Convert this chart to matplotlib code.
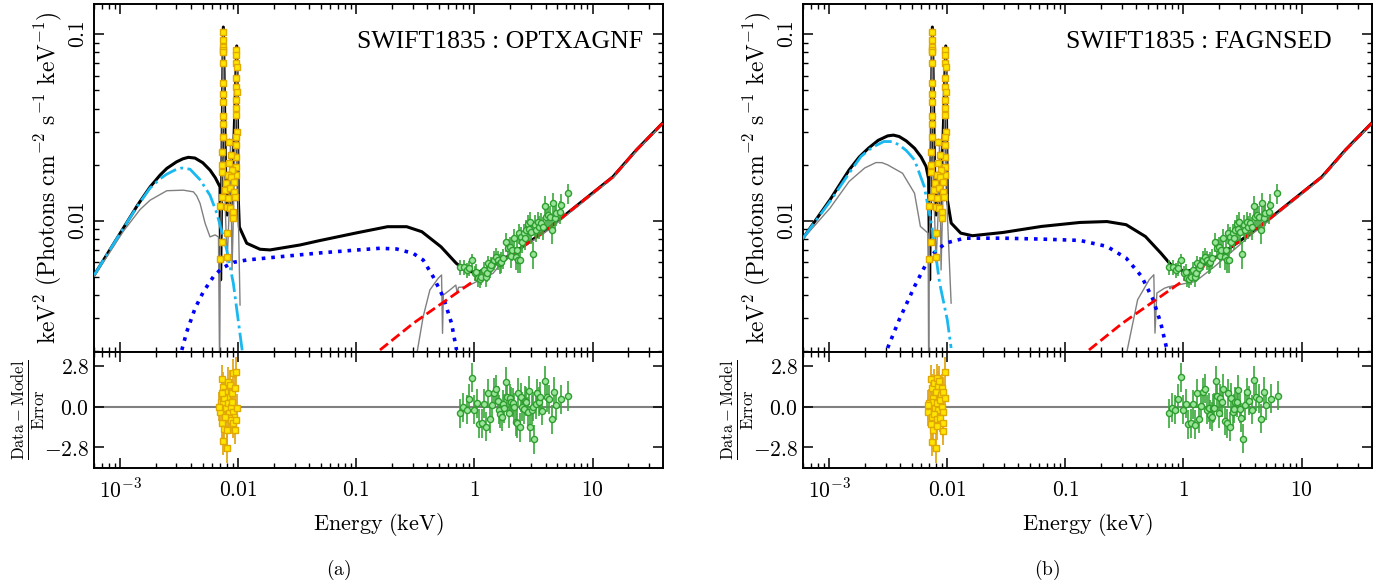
# SWIFT1835 - broad band SED fits (OPTXAGNF / FAGNSED), data + residuals
import matplotlib.pyplot as plt
from matplotlib.ticker import FixedLocator, LogLocator, NullFormatter, NullLocator

plt.rcParams['mathtext.fontset'] = 'cm'
plt.rcParams['font.family'] = 'serif'

# ---- 1) Data : UVOT (yellow squares) and XRT (green circles), same in both panels
uvot_E = [0.00745, 0.00746, 0.00744, 0.00745, 0.00746, 0.00744, 0.00745, 0.00743, 0.00744,
          0.00742, 0.00741, 0.00740, 0.00735, 0.00728, 0.00725,
          0.00965, 0.00966, 0.00964, 0.00967, 0.00966, 0.00965, 0.00968, 0.00966, 0.00965,
          0.00964, 0.00967, 0.00966, 0.00963, 0.00962, 0.00960, 0.00958,
          0.00836, 0.00869, 0.00836, 0.00886, 0.00820, 0.00869, 0.00912, 0.00785, 0.00773,
          0.00852, 0.00912, 0.00939, 0.00820, 0.00725, 0.00701, 0.00799, 0.00852, 0.00898,
          0.00909, 0.00799, 0.00725, 0.00807, 0.00701]
uvot_F = [0.1029, 0.0932, 0.0855, 0.0824, 0.0804, 0.0702, 0.0548, 0.0478, 0.0434,
          0.0365, 0.0330, 0.0281, 0.0234, 0.0199, 0.0183,
          0.0824, 0.0774, 0.0702, 0.0668, 0.0583, 0.0522, 0.0490, 0.0444, 0.0403,
          0.0369, 0.0299, 0.0281, 0.0255, 0.0220, 0.0194, 0.0176,
          0.0265, 0.0225, 0.0204, 0.0187, 0.0176, 0.0172, 0.0161, 0.0159, 0.0146,
          0.0150, 0.0143, 0.0134, 0.0133, 0.0134, 0.0120, 0.0119, 0.0117, 0.0111,
          0.0104, 0.00860, 0.00770, 0.00640, 0.00624]
uvot_relerr = 0.05

xrt_E = [0.752, 0.813, 0.868, 0.902, 0.951, 1.008, 1.041, 1.075, 1.111, 1.148,
         1.201, 1.249, 1.281, 1.307, 1.350, 1.394, 1.459, 1.517, 1.588, 1.640,
         1.694, 1.750, 1.867, 1.929, 1.993, 2.032, 2.099, 2.154, 2.240, 2.299,
         2.344, 2.390, 2.453, 2.502, 2.551, 2.617, 2.686, 2.757, 2.849, 2.904,
         2.981, 3.040, 3.140, 3.243, 3.350, 3.439, 3.529, 3.693, 3.815, 3.941,
         4.071, 4.206, 4.345, 4.517, 4.636, 4.789, 4.947, 5.280, 5.453, 6.209]
xrt_F = [0.00563, 0.00563, 0.00545, 0.00556, 0.00616, 0.00523, 0.00534, 0.00491, 0.00486, 0.00502,
         0.00545, 0.00502, 0.00527, 0.00591, 0.00556, 0.00579, 0.00616, 0.00642, 0.00616, 0.00591,
         0.00604, 0.00629, 0.00773, 0.00712, 0.00727, 0.00648, 0.00697, 0.00805, 0.00637, 0.00697,
         0.00616, 0.00857, 0.00616, 0.00822, 0.00773, 0.00857, 0.00805, 0.00893, 0.00961, 0.00900,
         0.00989, 0.00875, 0.00664, 0.00950, 0.00893, 0.00989, 0.00930, 0.00969, 0.00923, 0.01200,
         0.01052, 0.01074, 0.01052, 0.00893, 0.01241, 0.01031, 0.01096, 0.01119, 0.01215, 0.01404]
xrt_err = [0.0005, 0.0005, 0.0005, 0.0005, 0.0005, 0.0005, 0.0005, 0.0005, 0.0005, 0.0005,
           0.0006, 0.0006, 0.0006, 0.0006, 0.0006, 0.0006, 0.0007, 0.0007, 0.0007, 0.0007,
           0.0008, 0.0008, 0.0009, 0.0009, 0.0009, 0.0009, 0.0009, 0.0010, 0.0009, 0.0009,
           0.0009, 0.0011, 0.0009, 0.0011, 0.0010, 0.0011, 0.0011, 0.0012, 0.0012, 0.0012,
           0.0013, 0.0012, 0.0011, 0.0013, 0.0012, 0.0013, 0.0013, 0.0013, 0.0013, 0.0016,
           0.0015, 0.0015, 0.0015, 0.0014, 0.0017, 0.0015, 0.0016, 0.0016, 0.0017, 0.0018]

# ---- 2) Modeles, panneau (a) OPTXAGNF
a_tot_E = [6.03e-4, 1.0e-3, 1.4e-3, 1.794e-3, 2.18e-3, 2.485e-3, 3.0e-3, 3.4e-3, 3.78e-3,
           4.3e-3, 5.0e-3, 5.77e-3, 6.4e-3, 7.01e-3,
           7.09e-3, 7.22e-3, 7.48e-3, 7.81e-3, 8.04e-3, 8.36e-3, 8.69e-3, 9.04e-3, 9.71e-3,
           0.01002, 0.01022, 0.01180, 0.01529, 0.01858, 0.03333, 0.04828, 0.1016, 0.1840,
           0.2669, 0.3589, 0.5207, 0.7015, 0.8458, 1.068, 1.439, 2.126, 4.074, 7.795,
           14.91, 23.52, 39.3]
a_tot_F = [0.00512, 0.00857, 0.0121, 0.0152, 0.0176, 0.0191, 0.0207, 0.0215, 0.0219,
           0.0217, 0.0205, 0.0187, 0.0170, 0.0152,
           0.00482, 0.01293, 0.1094, 0.01873, 0.01074, 0.01655, 0.01215, 0.01873, 0.0866,
           0.01293, 0.00926, 0.00758, 0.00704, 0.00698, 0.00742, 0.00782, 0.00863, 0.00930,
           0.00930, 0.00874, 0.00726, 0.00592, 0.00538, 0.00528, 0.00579, 0.00669, 0.00893, 0.01241,
           0.01723, 0.02396, 0.03344]

a_disc_E = [6.03e-4, 1.0e-3, 1.4e-3, 1.794e-3, 2.18e-3, 2.485e-3, 2.9e-3, 3.327e-3, 3.91e-3,
            4.75e-3, 5.77e-3, 6.58e-3, 7.99e-3, 9.09e-3, 0.01070, 0.01098]
a_disc_F = [0.00512, 0.00857, 0.0120, 0.0150, 0.0168, 0.0178, 0.0187, 0.0192, 0.0189,
            0.0166, 0.0137, 0.0110, 0.0070, 0.00462, 0.00211, 0.00188]

a_warm_E = [3.327e-3, 3.666e-3, 4.31e-3, 5.07e-3, 6.16e-3, 7.25e-3, 9.09e-3, 0.01180,
            0.02258, 0.04828, 0.1012, 0.1585, 0.2193, 0.3030, 0.3681, 0.4472, 0.5435,
            0.6402, 0.7058]
a_warm_F = [0.002029, 0.002543, 0.003396, 0.004168, 0.005017, 0.005563, 0.005991, 0.006164,
            0.006420, 0.006720, 0.006975, 0.007124, 0.007063, 0.006693, 0.006164, 0.005017,
            0.003918, 0.002821, 0.002029]

a_absuv_E = [6.03e-4, 1.066e-3, 1.476e-3, 1.794e-3, 2.485e-3, 3.43e-3, 4.17e-3, 4.45e-3,
             4.75e-3, 5.24e-3, 5.77e-3, 6.36e-3, 6.8e-3, 6.96e-3, 7.06e-3, 7.22e-3, 7.48e-3,
             7.73e-3, 8.04e-3, 8.36e-3, 8.61e-3, 8.86e-3, 9.21e-3, 9.71e-3, 0.01002, 0.01036]
a_absuv_F = [0.00505, 0.0088, 0.0115, 0.0129, 0.0145, 0.0146, 0.0143, 0.0136,
             0.0124, 0.0097, 0.0082, 0.0084, 0.0082, 0.0015, 0.00789, 0.01293, 0.0991,
             0.01293, 0.00601, 0.01074, 0.0271, 0.00545, 0.01463, 0.0728, 0.01074, 0.003536]

a_absx_E = [0.3237, 0.3681, 0.4195, 0.4931, 0.5268, 0.5370, 0.5455, 0.6192, 0.6959,
            0.7140, 0.7336, 0.8574, 1.111, 1.439, 1.640, 2.126, 4.074, 7.795, 14.91,
            23.52, 39.3]
a_absx_F = [0.0019, 0.003061, 0.004256, 0.004917, 0.005122, 0.002493, 0.004000, 0.004256,
            0.004525, 0.004101, 0.004399, 0.004431, 0.004816, 0.005231, 0.005794, 0.0066,
            0.0088, 0.0122, 0.0170, 0.0237, 0.0331]

pl_E = [0.1585, 0.3032, 0.5810, 1.111, 2.126, 4.074, 7.795, 14.91, 23.52, 39.3]
pl_F = [0.002029, 0.002821, 0.003761, 0.005017, 0.00669, 0.00893, 0.01241, 0.01723,
        0.02396, 0.03344]

# ---- 3) Modeles, panneau (b) FAGNSED
b_tot_E = [6.0e-4, 1.016e-3, 1.476e-3, 1.8e-3, 2.148e-3, 2.6e-3, 3.126e-3, 3.5e-3, 3.917e-3,
           4.5e-3, 5.28e-3, 6.0e-3, 6.62e-3,
           6.95e-3, 7.09e-3, 7.22e-3, 7.48e-3, 7.81e-3, 8.04e-3, 8.36e-3, 8.69e-3, 9.04e-3,
           9.71e-3, 0.01002, 0.01080, 0.01300, 0.01628, 0.02965, 0.0628, 0.1330, 0.2249,
           0.3273, 0.4764, 0.6427, 0.8054, 1.007, 1.262, 2.126, 4.074, 7.795, 14.91,
           23.52, 39.3]
b_tot_F = [0.00807, 0.01296, 0.01875, 0.0220, 0.02449, 0.0270, 0.02853, 0.0288, 0.02830,
           0.0268, 0.02450, 0.0220, 0.01954,
           0.01680, 0.00482, 0.01293, 0.1094, 0.01873, 0.01074, 0.01655, 0.01215, 0.01873,
           0.0866, 0.01293, 0.00972, 0.00859, 0.00832, 0.00866, 0.00933, 0.00980, 0.00991,
           0.00953, 0.00824, 0.00672, 0.00569, 0.00536, 0.00546, 0.00669, 0.00893, 0.01241,
           0.01723, 0.02396, 0.03344]

b_disc_E = [6.0e-4, 1.016e-3, 1.476e-3, 1.857e-3, 2.3e-3, 2.90e-3, 3.4e-3, 3.917e-3, 4.5e-3,
            5.28e-3, 6.38e-3, 7.41e-3, 8.61e-3, 0.0100, 0.01078]
b_disc_F = [0.00807, 0.01269, 0.01800, 0.02211, 0.0247, 0.02661, 0.0266, 0.02553, 0.0238,
            0.02122, 0.01528, 0.00932, 0.00464, 0.00295, 0.00208]

b_warm_E = [3.126e-3, 3.917e-3, 5.28e-3, 7.13e-3, 9.64e-3, 0.01403, 0.02965, 0.0628,
            0.1330, 0.2249, 0.3273, 0.4416, 0.5534, 0.6427, 0.7194]
b_warm_F = [0.00208, 0.00295, 0.004446, 0.00644, 0.00759, 0.00807, 0.00807, 0.00798,
            0.00785, 0.00729, 0.00631, 0.00504, 0.00378, 0.00283, 0.00208]

b_absuv_E = [6.0e-4, 1.016e-3, 1.476e-3, 2.0e-3, 2.49e-3, 2.8e-3, 3.126e-3, 4.18e-3, 5.28e-3,
             5.92e-3, 6.38e-3, 6.88e-3, 6.96e-3, 7.06e-3, 7.22e-3, 7.48e-3, 7.73e-3, 8.04e-3,
             8.36e-3, 8.61e-3, 8.86e-3, 9.21e-3, 9.71e-3, 0.01002, 0.01078]
b_absuv_F = [0.00800, 0.01169, 0.01626, 0.0192, 0.02053, 0.0205, 0.01995, 0.01799, 0.01406,
             0.00933, 0.00895, 0.00859, 0.0015, 0.00789, 0.01293, 0.0991, 0.01293, 0.00601,
             0.01074, 0.0271, 0.00545, 0.01463, 0.0728, 0.01074, 0.00362]

b_absx_E = [0.3273, 0.4093, 0.5129, 0.5610, 0.5741, 0.5957, 0.6918, 0.7632, 0.7706,
            0.7800, 1.262, 1.837, 4.074, 7.795, 14.91, 23.52, 39.3]
b_absx_F = [0.0019, 0.003776, 0.004831, 0.00514, 0.0025, 0.0041, 0.004355, 0.004446,
            0.00432, 0.00445, 0.00473, 0.00569, 0.0088, 0.0122, 0.0170, 0.0237, 0.0331]

# ---- 4) Residus (data - model) / error
a_resuv_E = [0.00725, 0.00748, 0.00773, 0.00799, 0.00823, 0.00852, 0.00881, 0.00909, 0.00939,
             0.00958, 0.00711, 0.00739, 0.00757, 0.00787, 0.00813, 0.00839, 0.00869, 0.00898,
             0.00927, 0.00701, 0.00729, 0.00761, 0.00799, 0.00829, 0.00863, 0.00909, 0.00939,
             0.00748, 0.00807, 0.00692, 0.00778, 0.00881, 0.00970, 0.00952, 0.00725]
a_resuv_R = [1.88, 1.38, 1.03, 0.69, 1.72, 1.49, 0.92, 2.29, 1.26,
             2.41, 0.34, 0.23, 0.57, -0.11, 0.23, -0.46, 0.0, -0.34,
             -0.69, -0.34, -1.15, -1.56, -1.61, -0.80, -0.92, -1.15, -1.61,
             -2.34, -2.87, 0.0, -0.69, 0.34, -0.11, -0.92, 0.92]

a_resx_E = [0.752, 0.803, 0.857, 0.902, 0.957, 1.001, 1.055, 1.097, 1.155, 1.201,
            1.249, 1.307, 1.350, 1.403, 1.459, 1.517, 1.578, 1.619, 1.662, 1.705,
            1.750, 1.796, 1.843, 1.892, 1.954, 2.019, 2.059, 2.127, 2.183, 2.240,
            2.299, 2.360, 2.422, 2.486, 2.551, 2.617, 2.686, 2.757, 2.830, 2.904,
            2.981, 3.059, 3.140, 3.201, 3.307, 3.394, 3.529, 3.622, 3.766, 3.966,
            4.124, 4.289, 4.517, 4.696, 4.947, 5.453, 6.250]
a_resx_R = [-0.46, -0.05, -0.23, 0.53, 2.0, -0.23, 0.23, -1.19, -1.15, 0.18,
            -1.38, 0.92, -0.85, 0.09, 0.96, 1.19, 0.41, -0.23, -0.50, -0.69,
            0.16, -0.11, 1.72, 0.69, -0.46, 0.57, 0.34, 0.28, -0.05, -1.03,
            -1.15, 0.96, -1.42, 0.64, 0.0, -0.18, 0.41, 0.34, -0.34, 1.10,
            -1.42, -0.23, 0.0, -2.25, 0.16, 0.92, 0.34, 0.69, -0.28, 1.79,
            0.64, 0.50, -0.87, 1.03, 0.11, 0.50, 0.73]

b_resuv_E = [0.00722, 0.00746, 0.00761, 0.00776, 0.00802, 0.00823, 0.00839, 0.00855, 0.00878,
             0.00901, 0.00925, 0.00949, 0.00704, 0.00727, 0.00751, 0.00786, 0.00812, 0.00839,
             0.00867, 0.00895, 0.00925, 0.00955, 0.00693, 0.00737, 0.00776, 0.00823, 0.00867,
             0.00913, 0.00722, 0.00761, 0.00812, 0.00925, 0.00741, 0.00802, 0.00690]
b_resuv_R = [1.88, 1.26, 0.57, 1.61, 1.03, 1.95, 1.44, 1.77, 0.80,
             1.26, 1.03, 2.41, 0.23, 0.0, 0.34, -0.11, 0.23, -0.23,
             0.46, 0.0, -0.34, 0.57, -0.34, -0.69, -0.53, -0.85, -0.76,
             -1.15, -1.22, -1.61, -1.31, -1.67, -2.41, -2.87, 0.11]

b_resx_E = [0.751, 0.796, 0.850, 0.907, 0.955, 1.000, 1.053, 1.102, 1.154, 1.200,
            1.256, 1.297, 1.358, 1.411, 1.477, 1.536, 1.597, 1.661, 1.683, 1.739,
            1.796, 1.831, 1.891, 1.942, 1.993, 2.045, 2.113, 2.183, 2.255, 2.329,
            2.406, 2.486, 2.551, 2.619, 2.688, 2.758, 2.831, 2.925, 3.021, 3.101,
            3.225, 3.353, 3.442, 3.625, 3.794, 3.971, 4.129, 4.321, 4.523, 4.764,
            5.020, 5.497, 6.262]
b_resx_R = [-0.46, -0.07, -0.23, 0.53, 2.02, -0.23, 0.21, -1.22, -1.15, 0.16,
            -1.26, 0.92, -0.85, 0.07, 0.99, 1.22, -0.23, -0.07, -0.57, -0.69,
            -0.11, -0.07, 1.77, 0.76, -0.46, 0.57, 0.30, 1.22, -0.99, -1.15,
            0.92, -1.38, 0.62, -0.34, -0.16, 0.34, 0.30, 1.15, -0.16, -0.76,
            -2.22, 0.11, 0.99, 0.39, -0.23, 1.81, 0.69, 0.53, -0.85, 1.03,
            0.11, 0.53, 0.76]

# ---- 5) Style
c_uv_face, c_uv_edge, c_uv_bar = '#ffe600', '#e0a800', '#e3a81c'
c_x_face, c_x_edge, c_x_bar = '#9be59b', '#2e9e2e', '#3aa83a'
xlim = (6.0e-4, 39.5)
ylim = (0.00198, 0.1454)
rlim = (-4.23, 3.76)
fs = 15.5


def style_axes(ax):
    ax.set_xscale('log')
    ax.set_xlim(*xlim)
    ax.xaxis.set_major_locator(FixedLocator([1e-3, 1e-2, 1e-1, 1, 10]))
    ax.xaxis.set_minor_locator(LogLocator(base=10, subs=range(2, 10), numticks=30))
    ax.xaxis.set_minor_formatter(NullFormatter())
    ax.tick_params(which='both', direction='in', top=True, right=True, labelsize=fs)
    ax.tick_params(which='major', length=7, width=1.1)
    ax.tick_params(which='minor', length=3.5, width=1.0)
    for s in ax.spines.values():
        s.set_linewidth(1.4)


def draw_panel(x0, tot, disc, warm, absuv, absx, resuv, resx, label, caption):
    w = 0.4076
    ax = fig.add_axes([x0, 0.3983, w, 0.5949])
    axr = fig.add_axes([x0, 0.2, w, 0.1983])

    # modeles
    ax.plot(tot[0], tot[1], color='black', lw=2.2, zorder=2)
    ax.plot(absuv[0], absuv[1], color='#808080', lw=1.0, zorder=3)
    ax.plot(absx[0], absx[1], color='#808080', lw=1.0, zorder=3)
    ax.plot(warm[0], warm[1], color='blue', lw=2.6, ls=':', zorder=4)
    ax.plot(disc[0], disc[1], color='#1ab8f0', lw=2.0, ls='-.', zorder=4)
    ax.plot(pl_E, pl_F, color='red', lw=2.0, ls='--', zorder=4)

    # donnees
    uv_err = [f * uvot_relerr for f in uvot_F]
    ax.errorbar(uvot_E, uvot_F, yerr=uv_err, fmt='s', ms=4.8, mfc=c_uv_face, mec=c_uv_edge,
                mew=1.0, ecolor=c_uv_bar, elinewidth=1.0, capsize=0, zorder=6)
    ax.errorbar(xrt_E, xrt_F, yerr=xrt_err, fmt='o', ms=4.4, mfc=c_x_face, mec=c_x_edge,
                mew=1.0, ecolor=c_x_bar, elinewidth=1.2, capsize=0, zorder=6)

    style_axes(ax)
    ax.set_yscale('log')
    ax.set_ylim(*ylim)
    ax.yaxis.set_major_locator(FixedLocator([0.01, 0.1]))
    ax.yaxis.set_minor_locator(LogLocator(base=10, subs=range(2, 10), numticks=30))
    ax.yaxis.set_minor_formatter(NullFormatter())
    ax.set_yticklabels(['$0.01$', '$0.1$'], rotation=90, va='center')
    ax.set_xticklabels([])
    ax.set_ylabel(r'$\mathrm{keV^2\ (Photons\ cm^{-2}\ s^{-1}\ keV^{-1})}$', fontsize=17)
    ax.yaxis.set_label_coords(-0.053, 0.5)
    ax.text(0.462, 0.89, label, transform=ax.transAxes, fontsize=18.5,
            family='Liberation Serif', ha='left', va='center')

    # residus
    axr.axhline(0.0, color='#808080', lw=1.5, zorder=1)
    axr.errorbar(resuv[0], resuv[1], yerr=1.0, fmt='s', ms=4.8, mfc=c_uv_face, mec=c_uv_edge,
                 mew=1.0, ecolor=c_uv_bar, elinewidth=1.3, capsize=0, zorder=5)
    axr.errorbar(resx[0], resx[1], yerr=1.0, fmt='o', ms=4.4, mfc=c_x_face, mec=c_x_edge,
                 mew=1.0, ecolor=c_x_bar, elinewidth=1.2, capsize=0, zorder=5)
    style_axes(axr)
    axr.set_ylim(*rlim)
    axr.yaxis.set_major_locator(FixedLocator([-2.8, 0.0, 2.8]))
    axr.yaxis.set_minor_locator(NullLocator())
    axr.set_yticklabels(['$-2.8$', '$0.0$', '$2.8$'])
    axr.set_xticklabels(['$10^{-3}$', '$0.01$', '$0.1$', '$1$', '$10$'])
    axr.tick_params(axis='x', which='major', pad=8)
    axr.set_ylabel(r'$\frac{\mathrm{Data-Model}}{\mathrm{Error}}$', fontsize=17)
    axr.yaxis.set_label_coords(-0.083, 0.5)
    axr.set_xlabel(r'$\mathrm{Energy\ (keV)}$', fontsize=fs + 0.5)
    axr.xaxis.set_label_coords(0.5, -0.37)

    fig.text(x0 + 0.175, 0.026, caption, fontsize=14, ha='center', va='center')


fig = plt.figure(figsize=(13.96, 5.85), dpi=100)

draw_panel(0.0673,
           (a_tot_E, a_tot_F), (a_disc_E, a_disc_F), (a_warm_E, a_warm_F),
           (a_absuv_E, a_absuv_F), (a_absx_E, a_absx_F),
           (a_resuv_E, a_resuv_R), (a_resx_E, a_resx_R),
           'SWIFT1835 : OPTXAGNF', r'$\mathrm{(a)}$')
draw_panel(0.5752,
           (b_tot_E, b_tot_F), (b_disc_E, b_disc_F), (b_warm_E, b_warm_F),
           (b_absuv_E, b_absuv_F), (b_absx_E, b_absx_F),
           (b_resuv_E, b_resuv_R), (b_resx_E, b_resx_R),
           'SWIFT1835 : FAGNSED', r'$\mathrm{(b)}$')

fig.savefig('out.png', dpi=100)
